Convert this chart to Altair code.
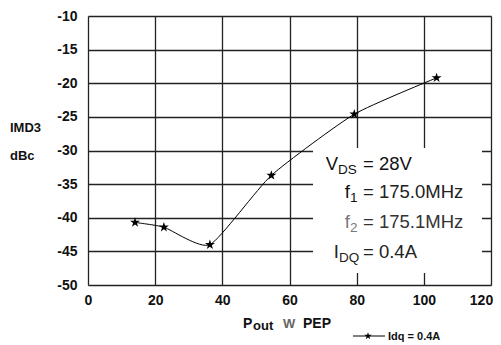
import altair as alt
import pandas as pd

# Data
pout = [14, 22.6, 36.3, 54.6, 79.3, 103.8]
imd3 = [-40.7, -41.4, -44.0, -33.7, -24.6, -19.2]

x_ticks = [0, 20, 40, 60, 80, 100, 120]
y_ticks = [-50, -45, -40, -35, -30, -25, -20, -15, -10]

STAR = "M0,-1L0.2245,-0.309L0.951,-0.309L0.363,0.118L0.588,0.809L0,0.382L-0.588,0.809L-0.363,0.118L-0.951,-0.309L-0.2245,-0.309Z"
FONT = "Liberation Sans"

W, H = 403, 269

df = pd.DataFrame({"pout": pout, "imd3": imd3})

xs = alt.Scale(domain=[0, 120], nice=False, zero=False)
ys = alt.Scale(domain=[-50, -10], nice=False, zero=False)

base = alt.Chart(df)

x_enc = alt.X("pout:Q", scale=xs,
              axis=alt.Axis(values=x_ticks, title=None, ticks=False, domain=False,
                            grid=True, gridColor="#222", gridWidth=1.3, gridOpacity=1,
                            labelFont=FONT, labelFontSize=14, labelFontWeight="bold",
                            labelColor="#111", labelPadding=8, labelFlush=False,
                            labelOverlap=False, labelExpr="'' + datum.value",
                            labelOffset={"condition": {"test": "datum.value == 120", "value": -10},
                                         "value": 0}))
y_enc = alt.Y("imd3:Q", scale=ys,
              axis=alt.Axis(values=y_ticks, title=None, ticks=False, domain=False,
                            grid=True, gridColor="#222", gridWidth=1.3, gridOpacity=1,
                            labelFont=FONT, labelFontSize=14, labelFontWeight="bold",
                            labelColor="#111", labelPadding=11, labelOverlap=False,
                            labelExpr="'' + datum.value"))

# white annotation box
box = alt.Chart(pd.DataFrame({"a": [0]})).mark_rect(color="white").encode(
    x=alt.value(225), x2=alt.value(394), y=alt.value(132), y2=alt.value(257))

line = base.mark_line(color="black", strokeWidth=1, interpolate="cardinal", tension=0.45).encode(
    x=x_enc, y=y_enc)
pts = base.mark_point(shape=STAR, filled=True, color="black", size=110, opacity=1).encode(
    x=x_enc, y=y_enc)

# annotation texts: (text, x, y, size, weight, color, align)
ann = [
    ("V", 250, 154, 18.5, "normal", "#111", "right"),
    ("DS", 250, 158, 13.5, "normal", "#111", "left"),
    ("= 28V", 275, 154, 18.5, "normal", "#111", "left"),
    ("f", 262, 182, 18.5, "normal", "#111", "right"),
    ("1", 262, 186, 13.5, "normal", "#111", "left"),
    ("= 175.0MHz", 275, 182, 18.5, "normal", "#222", "left"),
    ("f", 262, 212, 18.5, "normal", "#777", "right"),
    ("2", 262, 216, 13.5, "normal", "#777", "left"),
    ("= 175.1MHz", 275, 212, 18.5, "normal", "#333", "left"),
    ("I", 251, 242, 18.5, "normal", "#222", "right"),
    ("DQ", 251, 246, 13.5, "normal", "#222", "left"),
    ("= 0.4A", 275, 242, 18.5, "normal", "#222", "left"),
    # axis titles
    ("P", 155, 312, 14, "bold", "#111", "left"),
    ("out", 165, 314, 13, "bold", "#111", "left"),
    ("W", 195, 312, 13, "bold", "#666", "left"),
    ("PEP", 215, 312, 14, "bold", "#111", "left"),
    ("IMD3", -78, 116, 13, "bold", "#111", "left"),
    ("dBc", -78, 144, 13, "bold", "#111", "left"),
    # legend
    ("Idq = 0.4A", 300, 324, 11, "bold", "#111", "left"),
]

layers = [box, line, pts]
for t, xv, yv, sz, wt, col, al in ann:
    layers.append(
        alt.Chart(pd.DataFrame({"t": [t]})).mark_text(
            font=FONT, fontSize=sz, fontWeight=wt, color=col, align=al, baseline="alphabetic"
        ).encode(text="t:N", x=alt.value(xv), y=alt.value(yv))
    )

leg_line = alt.Chart(pd.DataFrame({"a": [0]})).mark_rule(color="black", strokeWidth=1).encode(
    x=alt.value(265), x2=alt.value(297), y=alt.value(320))
leg_star = alt.Chart(pd.DataFrame({"a": [0]})).mark_point(
    shape=STAR, filled=True, color="black", size=60, opacity=1).encode(
    x=alt.value(280), y=alt.value(320))
layers += [leg_line, leg_star]

chart = alt.layer(*layers).properties(
    width=W, height=H,
    autosize=alt.AutoSizeParams(type="none"),
    padding={"left": 80, "top": 8, "right": 2, "bottom": 60},
).configure_view(stroke="#222", strokeWidth=1.5).configure(background="white")

chart.save("out.html", embed_options={"renderer": "svg", "actions": False})
